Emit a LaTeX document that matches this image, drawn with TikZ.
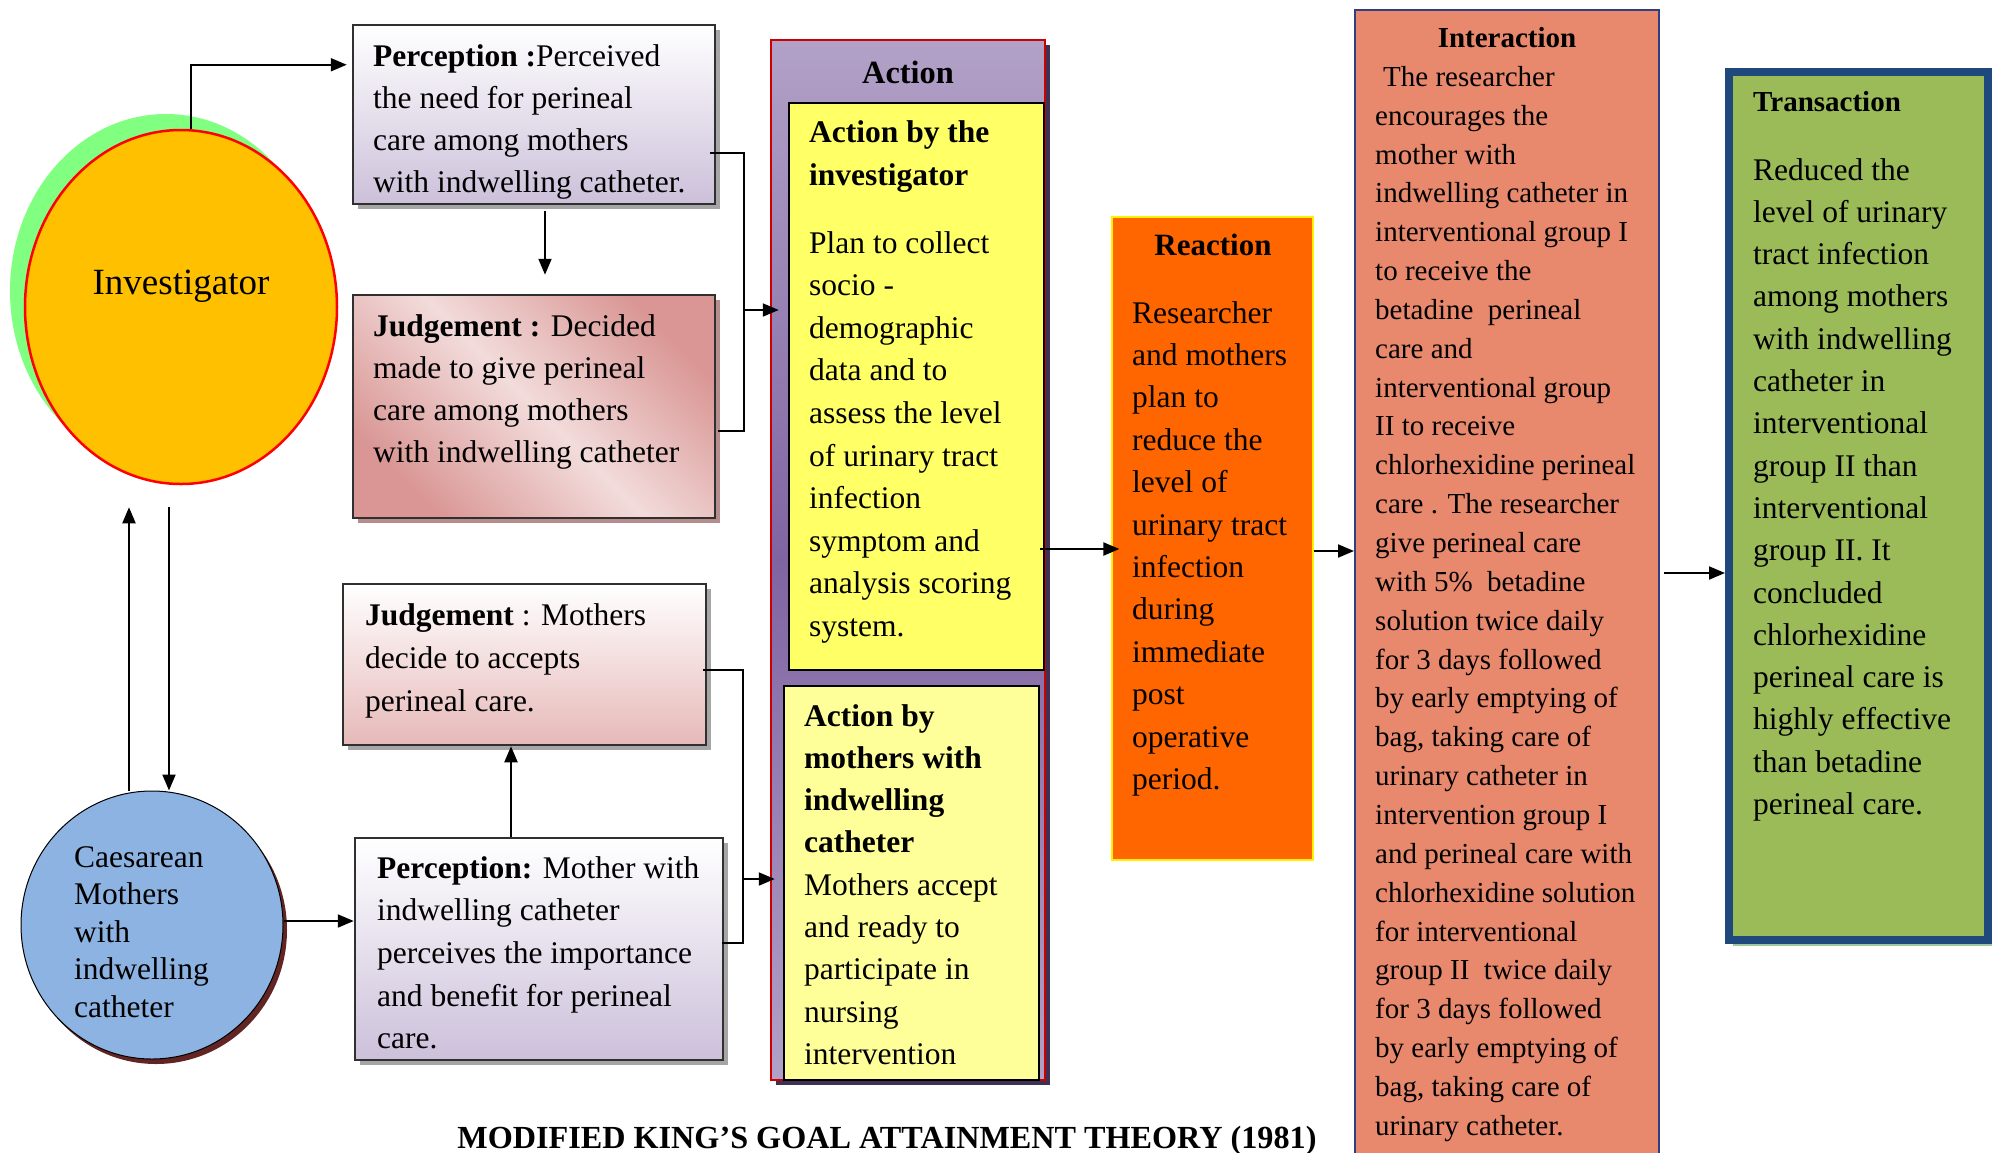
\documentclass[tikz,border=0pt]{standalone}
\usepackage{fontspec}
\setmainfont{Liberation Serif}
\usetikzlibrary{arrows.meta,shadows,calc,shapes.geometric}
\definecolor{invgreen}{HTML}{80FF80}
\definecolor{invorange}{HTML}{FFC000}
\definecolor{perlow}{HTML}{CCC0DA}
\definecolor{juddark}{HTML}{D99694}
\definecolor{judlight}{HTML}{F2DCDB}
\definecolor{jud2low}{HTML}{E6B9B8}
\definecolor{boxgray}{HTML}{303030}
\definecolor{caesblue}{HTML}{8DB3E2}
\definecolor{caesshadow}{HTML}{632523}
\definecolor{actlight}{HTML}{B2A1C7}
\definecolor{actdark}{HTML}{8064A2}
\definecolor{actshadow}{HTML}{3F3151}
\definecolor{yelA}{HTML}{FFFF66}
\definecolor{yelB}{HTML}{FFFF99}
\definecolor{reactorange}{HTML}{FF6600}
\definecolor{intersalmon}{HTML}{E8896D}
\definecolor{internavy}{HTML}{2F3F7F}
\definecolor{transgreen}{HTML}{9BBB59}
\definecolor{transblue}{HTML}{1F497D}
\begin{document}
\begin{tikzpicture}[x=1pt,y=-1pt,
  box/.style={rectangle, draw=boxgray, line width=2.5pt, inner sep=0pt},
  gshadow/.style={drop shadow={shadow xshift=5pt, shadow yshift=-5pt, fill=#1, opacity=1}},
  arr/.style={line width=2pt, -{Triangle[length=16pt,width=13pt]}},
  ln/.style={line width=1.8pt},
  txt/.style={anchor=north west, inner sep=0pt, align=left, font=\fontsize{31.5}{42.4}\selectfont},
  ttl/.style={anchor=base, inner sep=0pt, font=\fontsize{31.5}{38}\selectfont\bfseries}]
\useasboundingbox (0,0) rectangle (1996,1152);
\fill[white] (0,0) rectangle (1996,1152);

% ---------- Investigator ----------
\node[ellipse, fill=invgreen, minimum width=312pt, minimum height=354pt, inner sep=0pt] (invsh) at (166,291) {};
\node[ellipse, fill=invorange, draw=red, line width=2.5pt, minimum width=312pt, minimum height=354pt, inner sep=0pt] (inv) at (181,307) {};
\node[anchor=base, inner sep=0pt, font=\fontsize{37}{40}\selectfont] (invt) at (181,294) {Investigator};

% ---------- Perception 1 ----------
\node[box, minimum width=362pt, minimum height=179pt, top color=white, bottom color=perlow, gshadow=gray!70] (per1) at (534,114.5) {};
\node[txt, font=\fontsize{31.5}{42}\selectfont] (per1t) at (373,44) {\textbf{Perception :}Perceived\\the need for perineal\\care among mothers\\with indwelling catheter.};

% ---------- Judgement 1 ----------
\node[box, minimum width=362pt, minimum height=223pt, shading=axis, top color=juddark, bottom color=juddark, middle color=judlight, shading angle=-45, gshadow=juddark!60!gray] (jud1) at (534,406.5) {};
\node[txt, font=\fontsize{31.5}{42.3}\selectfont] (jud1t) at (373,314) {\textbf{Judgement :} Decided\\made to give perineal\\care among mothers\\with indwelling catheter};

% ---------- Judgement 2 ----------
\node[box, minimum width=363pt, minimum height=161pt, top color=white, bottom color=jud2low, gshadow=gray!70] (jud2) at (524.5,664.5) {};
\node[txt, font=\fontsize{31.5}{43}\selectfont] (jud2t) at (365,603) {\textbf{Judgement} : Mothers\\decide to accepts\\perineal care.};

% ---------- Perception 2 ----------
\node[box, minimum width=368pt, minimum height=222pt, top color=white, bottom color=perlow, gshadow=gray!70] (per2) at (539,949) {};
\node[txt, font=\fontsize{31.5}{42.7}\selectfont] (per2t) at (377,856) {\textbf{Perception:} Mother with\\indwelling catheter\\perceives the importance\\and benefit for perineal\\care.};

% ---------- Caesarean mothers ----------
\node[ellipse, fill=caesblue, draw=black, line width=1pt, minimum width=262pt, minimum height=268pt, inner sep=0pt, drop shadow={shadow xshift=4pt, shadow yshift=-5pt, fill=caesshadow, opacity=1}] (caes) at (152,925) {};
\node[txt, font=\fontsize{31.5}{37.5}\selectfont] (caest) at (74,846) {Caesarean\\Mothers\\with\\indwelling\\catheter};

% ---------- Action ----------
\node[rectangle, draw=red!80!black, line width=2.5pt, minimum width=274pt, minimum height=1040pt, inner sep=0pt, shading=axis, top color=actlight, bottom color=actlight, middle color=actdark, drop shadow={shadow xshift=5pt, shadow yshift=-5pt, fill=actshadow, opacity=1}] (act) at (908,560) {};
\node[ttl, font=\fontsize{32.4}{38}\selectfont\bfseries] (actt) at (908,83) {Action};
\node[rectangle, draw=black, line width=2.5pt, fill=yelA, minimum width=255pt, minimum height=567pt, inner sep=0pt] (yel1) at (916.5,386.5) {};
\node[txt, font=\fontsize{31.5}{43}\selectfont\bfseries] (yel1h) at (809,120) {Action by the\\investigator};
\node[txt, font=\fontsize{31.5}{42.6}\selectfont] (yel1t) at (809,231) {Plan to collect\\socio -\\demographic\\data and to\\assess the level\\of urinary tract\\infection\\symptom and\\analysis scoring\\system.};
\node[rectangle, draw=black, line width=2.5pt, fill=yelB, minimum width=255pt, minimum height=394pt, inner sep=0pt] (yel2) at (911.5,883) {};
\node[txt, font=\fontsize{31.5}{42.3}\selectfont] (yel2t) at (804,704) {\textbf{Action by}\\\textbf{mothers with}\\\textbf{indwelling}\\\textbf{catheter}\\Mothers accept\\and ready to\\participate in\\nursing\\intervention};

% ---------- Reaction ----------
\node[rectangle, draw=yellow, line width=1.2pt, fill=reactorange, minimum width=201pt, minimum height=643pt, inner sep=0pt] (react) at (1212.5,538.5) {};
\node[ttl, font=\fontsize{31}{38}\selectfont\bfseries] (reactt) at (1213,255) {Reaction};
\node[txt, font=\fontsize{31.5}{42.4}\selectfont] (reacttx) at (1132,301) {Researcher\\and mothers\\plan to\\reduce the\\level of\\urinary tract\\infection\\during\\immediate\\post\\operative\\period.};

% ---------- Interaction ----------
\node[rectangle, draw=internavy, line width=2pt, fill=intersalmon, minimum width=304pt, minimum height=1150pt, inner sep=0pt] (inter) at (1507,585) {};
\node[ttl, font=\fontsize{29}{34}\selectfont\bfseries] (intert) at (1507,47) {Interaction};
\node[txt, font=\fontsize{29}{38.85}\selectfont] (intertx) at (1375,66) {\hspace{8pt}The researcher\\encourages the\\mother with\\indwelling catheter in\\interventional group I\\to receive the\\betadine\ \ perineal\\care and\\interventional group\\II to receive\\chlorhexidine perineal\\care . The researcher\\give perineal care\\with 5\%\ \ betadine\\solution twice daily\\for 3 days followed\\by early emptying of\\bag, taking care of\\urinary catheter in\\intervention group I\\and perineal care with\\chlorhexidine solution\\for interventional\\group II\ \ twice daily\\for 3 days followed\\by early emptying of\\bag, taking care of\\urinary catheter.};

% ---------- Transaction ----------
\node[rectangle, draw=transblue, line width=8pt, fill=transgreen, minimum width=259pt, minimum height=868pt, inner sep=0pt, drop shadow={shadow xshift=4pt, shadow yshift=-6pt, fill=gray!70!green!60!white, opacity=1}] (trans) at (1858.5,506) {};
\node[anchor=base west, inner sep=0pt, font=\fontsize{29}{34}\selectfont\bfseries] (transt) at (1753,111) {Transaction};
\node[txt, font=\fontsize{31.5}{42.3}\selectfont] (transtx) at (1753,158) {Reduced the\\level of urinary\\tract infection\\among mothers\\with indwelling\\catheter in\\interventional\\group II than\\interventional\\group II. It\\concluded\\chlorhexidine\\perineal care is\\highly effective\\than betadine\\perineal care.};

% ---------- Caption ----------
\node[anchor=base, inner sep=0pt, font=\fontsize{32.2}{36}\selectfont\bfseries] (cap) at (887,1148) {MODIFIED KING’S GOAL ATTAINMENT THEORY (1981)};

% ---------- Connectors ----------
\draw[arr, shorten >=5pt] ([xshift=10pt]inv.north) |- ([yshift=-41pt]per1.north west);
\draw[arr, shorten <=6pt, shorten >=19pt] ([xshift=11pt]per1.south) -- ([xshift=11pt]jud1.north);

\coordinate (b1top) at (744,153);
\coordinate (b1bot) at (744,431);
\coordinate (b1mid) at (744,310);
\draw[ln] ([xshift=-6pt]per1.east |- b1top) -- (b1top) -- (b1bot) -- ([xshift=2pt]jud1.east |- b1bot);
\draw[arr] (b1mid) -- ([xshift=9pt]act.west |- b1mid);

\draw[arr] ([xshift=-23pt]caes.north) -- ([xshift=-52pt,yshift=-22pt]inv.south);
\draw[arr] ([xshift=-12pt,yshift=-22pt]inv.south) -- ([xshift=17pt]caes.north);

\draw[arr] ([yshift=4pt]caes.east) -- ([yshift=4pt]caes.east -| per2.west);
\draw[arr] ([xshift=-28pt]per2.north) -- ([xshift=-28pt]per2.north |- jud2.south);

\coordinate (b2top) at (743,670);
\coordinate (b2bot) at (743,943);
\coordinate (b2mid) at (743,879);
\draw[ln] ([xshift=-4pt]jud2.east |- b2top) -- (b2top) -- (b2bot) -- ([xshift=-2pt]per2.east |- b2bot);
\draw[arr] (b2mid) -- ([xshift=5pt]act.west |- b2mid);

\draw[arr] ([xshift=-5pt,yshift=-162.5pt]yel1.east) -- ([xshift=8pt,yshift=-10.5pt]react.west);
\draw[arr] ([yshift=-12.5pt]react.east) -- ([yshift=-12.5pt]react.east -| inter.west);
\draw[arr] ([xshift=4pt,yshift=12pt]inter.east) -- ([yshift=12pt]inter.east -| trans.west);
\end{tikzpicture}
\end{document}
